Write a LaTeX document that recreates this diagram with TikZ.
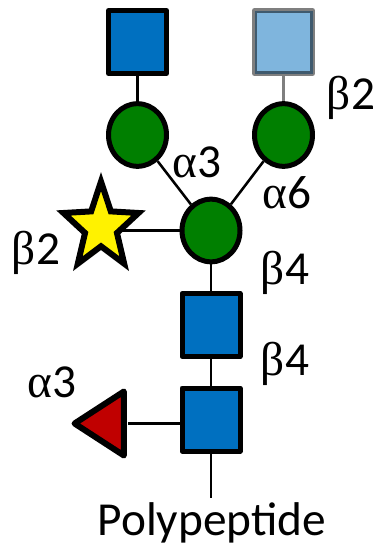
\documentclass[tikz,border=0pt]{standalone}
\usepackage{fontspec}
\usepackage{tikz}
\usetikzlibrary{shapes.geometric}
\setmainfont{Carlito}
\newfontfamily\greekfont{Liberation Serif}
\definecolor{glcnacblue}{HTML}{0070C0}
\definecolor{galnacblue}{HTML}{7FB5DD}
\definecolor{manngreen}{HTML}{007F00}
\definecolor{fucred}{HTML}{C00000}
\newcommand{\lnk}[2]{{\greekfont #1}#2}
\tikzset{
	residue/.style={draw=black,line width=3.75pt,inner sep=0pt,line join=round},
	glcnac/.style={residue,rectangle,fill=glcnacblue,minimum width=43.5pt,minimum height=47.25pt},
	xylose/.style={glcnac,fill=galnacblue,draw opacity=0.5},
	mannose/.style={residue,ellipse,fill=manngreen,minimum width=43.5pt,minimum height=47pt},
	galstar/.style={residue,line width=4.5pt,star,star points=5,star point ratio=2.35,fill=yellow,minimum size=68pt,xscale=0.87,line join=miter,transform shape},
	fucose/.style={residue,line width=4.5pt,isosceles triangle,isosceles triangle stretches,shape border rotate=180,fill=fucred,minimum width=48pt,minimum height=37pt},
	bond/.style={draw=black,line width=1.9pt},
	lnklabel/.style={font=\fontsize{35.5pt}{35.5pt}\selectfont,inner sep=0pt}
}
\begin{document}
\begin{tikzpicture}[x=0.75pt,y=-0.75pt]
	\useasboundingbox (0,0) rectangle (376,546);
	\node[glcnac] (topleft) at (137.5,42) {};
	\node[xylose] (topright) at (283.5,42) {};
	\node[mannose] (armleft) at (137.5,135) {};
	\node[mannose] (armright) at (283.5,135) {};
	\node[mannose] (core) at (211,230.5) {};
	\node[galstar] (gal) at (101,227) {};
	\node[glcnac] (stemupper) at (211,325) {};
	\node[glcnac] (stemlower) at (211,419.5) {};
	\node[fucose] (fuc) at (106.5,423.5) {};
	\coordinate (peptide) at (211,498);
	\draw[bond] (topleft) -- (armleft);
	\draw[bond,draw opacity=0.5] (topright) -- (armright);
	\draw[bond] (armleft) -- (core);
	\draw[bond] (armright) -- (core);
	\draw[bond] (gal.center |- core.west) ++(21,0) -- (core.west);
	\draw[bond] (core) -- (stemupper);
	\draw[bond] (stemupper) -- (stemlower);
	\draw[bond] (stemlower.south) -- (peptide);
	\draw[bond] (stemlower.west |- fuc.center) -- (128,423.5);
	\node[lnklabel] (labelbtwo) at (351,98) {\lnk{β}{2}};
	\node[lnklabel] (labelathree) at (197,162) {\lnk{α}{3}};
	\node[lnklabel] (labelasix) at (287,193) {\lnk{α}{6}};
	\node[lnklabel] (labelgal) at (36,253) {\lnk{β}{2}};
	\node[lnklabel] (labelbfoura) at (285,273) {\lnk{β}{4}};
	\node[lnklabel] (labelbfourb) at (285,364) {\lnk{β}{4}};
	\node[lnklabel] (labelfuc) at (52,382) {\lnk{α}{3}};
	\node[lnklabel] (polypeptide) at (212,523) {Polypeptide};
\end{tikzpicture}
\end{document}
